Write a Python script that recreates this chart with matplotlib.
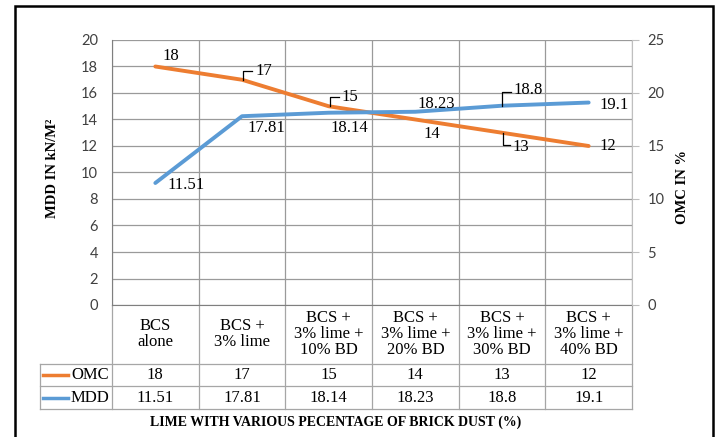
import matplotlib
matplotlib.use("Agg")
import matplotlib.pyplot as plt
from matplotlib.lines import Line2D
from matplotlib.patches import Rectangle

# Data
categories = [
    "BCS\nalone",
    "BCS +\n3% lime",
    "BCS +\n3% lime +\n10% BD",
    "BCS +\n3% lime +\n20% BD",
    "BCS +\n3% lime +\n30% BD",
    "BCS +\n3% lime +\n40% BD",
]
omc_values = [18, 17, 15, 14, 13, 12]
mdd_values = [11.51, 17.81, 18.14, 18.23, 18.8, 19.1]
omc_labels = ["18", "17", "15", "14", "13", "12"]
mdd_labels = ["11.51", "17.81", "18.14", "18.23", "18.8", "19.1"]
left_ticks = list(range(0, 21, 2))
right_ticks = list(range(0, 26, 5))

ORANGE = "#ED7D31"
BLUE = "#5B9BD5"
GRID = "#9A9A9A"
TICK_COL = "#404040"
SERIF = "Liberation Serif"
SANS = "Lato"

W, H = 717, 437
fig = plt.figure(figsize=(W / 100, H / 100), dpi=100)

def px_box(x0, y0, x1, y1):
    return [x0 / W, 1 - y1 / H, (x1 - x0) / W, (y1 - y0) / H]

ax = fig.add_axes(px_box(112, 40, 632, 305))
ax2 = ax.twinx()

x = list(range(len(categories)))
ax.set_xlim(-0.5, len(categories) - 0.5)
ax.set_ylim(0, 20)
ax2.set_ylim(0, 25)

# Grid
for t in left_ticks:
    ax.axhline(t, color=GRID, lw=0.9, zorder=0)
for i in range(len(categories) + 1):
    ax.axvline(i - 0.5, color=GRID, lw=0.9, zorder=0)

for a in (ax, ax2):
    for s in a.spines.values():
        s.set_visible(False)
ax.spines["left"].set_visible(True)
ax.spines["left"].set_color("#7F7F7F")
ax.spines["bottom"].set_visible(True)
ax.spines["bottom"].set_color("#7F7F7F")
ax2.spines["right"].set_visible(True)
ax2.spines["right"].set_color("#BFBFBF")

ax.set_xticks([])
ax.set_yticks(left_ticks)
ax.set_yticklabels([str(t) for t in left_ticks], fontfamily=SANS, fontsize=10.5, color=TICK_COL)
ax.tick_params(axis="y", length=0, pad=10)
ax2.set_yticks(right_ticks)
ax2.set_yticklabels([str(t) for t in right_ticks], fontfamily=SANS, fontsize=10.5, color=TICK_COL)
ax2.tick_params(axis="y", length=5, color="#BFBFBF", pad=6)

# Series: OMC on the left scale, MDD on the right scale
ax.plot(x, omc_values, color=ORANGE, lw=2.8, solid_capstyle="round", zorder=3)
ax2.plot(x, mdd_values, color=BLUE, lw=2.8, solid_capstyle="round", zorder=3)

fig.canvas.draw()

FS = 12
lbl_kw = dict(textcoords="offset pixels", fontfamily=SERIF, fontsize=FS,
              ha="center", va="center", color="black", zorder=5)

omc_offsets = [(16, 10), (22, 9), (21, 9), (17, -15), (19, -14), (19, 0)]
mdd_offsets = [(31, -2), (24, -12), (21, -15), (21, 8), (26, 16), (25, -2)]

for xi, v, s, off in zip(x, omc_values, omc_labels, omc_offsets):
    ax.annotate(s, (xi, v), xytext=off, **lbl_kw)
for xi, v, s, off in zip(x, mdd_values, mdd_labels, mdd_offsets):
    ax2.annotate(s, (xi, v), xytext=off, **lbl_kw)

# Leader lines (pixel offsets from the data point, y up)
def leader(axis, xi, v, pts):
    px, py = axis.transData.transform((xi, v))
    xs = [px + dx for dx, dy in pts]
    ys = [py + dy for dx, dy in pts]
    fig.add_artist(Line2D(xs, ys, color="black", lw=0.9, transform=None, zorder=6))

leader(ax, 1, omc_values[1], [(1, 0), (1, 9), (10, 9)])
leader(ax, 2, omc_values[2], [(1, 0), (1, 9), (10, 9)])
leader(ax, 4, omc_values[4], [(1, 0), (1, -12), (8, -12)])
leader(ax2, 4, mdd_values[4], [(0, 0), (0, 14), (9, 14)])

# Data table below the plot
tb = ax.get_xaxis_transform()
ah = 265.0
y_cat = -(364 - 305) / ah
y_omc = -(386 - 305) / ah
y_mdd = -(409 - 305) / ah
tcol = "#A6A6A6"
for i in range(len(categories) + 1):
    ax.add_line(Line2D([i - 0.5, i - 0.5], [0, y_mdd], transform=tb, color=tcol, lw=0.9, clip_on=False))
for yy in (y_cat, y_omc, y_mdd):
    ax.add_line(Line2D([-0.5 - 72 / 86.67, 5.5], [yy, yy], transform=tb, color=tcol, lw=0.9, clip_on=False))
ax.add_line(Line2D([-0.5 - 72 / 86.67] * 2, [y_cat, y_mdd], transform=tb, color=tcol, lw=0.9, clip_on=False))

for xi, c in zip(x, categories):
    ax.text(xi, y_cat / 2, c, transform=tb, ha="center", va="center", fontfamily=SERIF,
            fontsize=FS, linespacing=1.0, clip_on=False)
for xi, s in zip(x, omc_labels):
    ax.text(xi, (y_cat + y_omc) / 2, s, transform=tb, ha="center", va="center",
            fontfamily=SERIF, fontsize=FS, clip_on=False)
for xi, s in zip(x, mdd_labels):
    ax.text(xi, (y_omc + y_mdd) / 2, s, transform=tb, ha="center", va="center",
            fontfamily=SERIF, fontsize=FS, clip_on=False)

# Legend keys in the table
for name, col, ymid in (("OMC", ORANGE, (y_cat + y_omc) / 2), ("MDD", BLUE, (y_omc + y_mdd) / 2)):
    ax.add_line(Line2D([-0.5 - 69 / 86.67, -0.5 - 44 / 86.67], [ymid, ymid], transform=tb,
                       color=col, lw=2.5, clip_on=False))
    ax.text(-0.5 - 3 / 86.67, ymid, name, transform=tb, ha="right", va="center",
            fontfamily=SERIF, fontsize=FS, clip_on=False)

# Axis titles
fig.text(53 / W, 1 - 168 / H, "MDD IN kN/M²", rotation=90, ha="center", va="center",
         fontfamily=SERIF, fontweight="bold", fontsize=10.5)
fig.text(683 / W, 1 - 187 / H, "OMC IN %", rotation=90, ha="center", va="center",
         fontfamily=SERIF, fontweight="bold", fontsize=10.5)
fig.text(336 / W, 1 - 422 / H, "LIME WITH VARIOUS PECENTAGE OF BRICK DUST (%)",
         ha="center", va="center", fontfamily=SERIF, fontweight="bold", fontsize=10)

# Outer frame
fig.add_artist(Rectangle((15 / W, -0.05), (713 - 15) / W, 1.05 - 6 / H, transform=fig.transFigure,
                         fill=False, edgecolor="black", lw=1.8))

fig.savefig("out.png", dpi=100)
